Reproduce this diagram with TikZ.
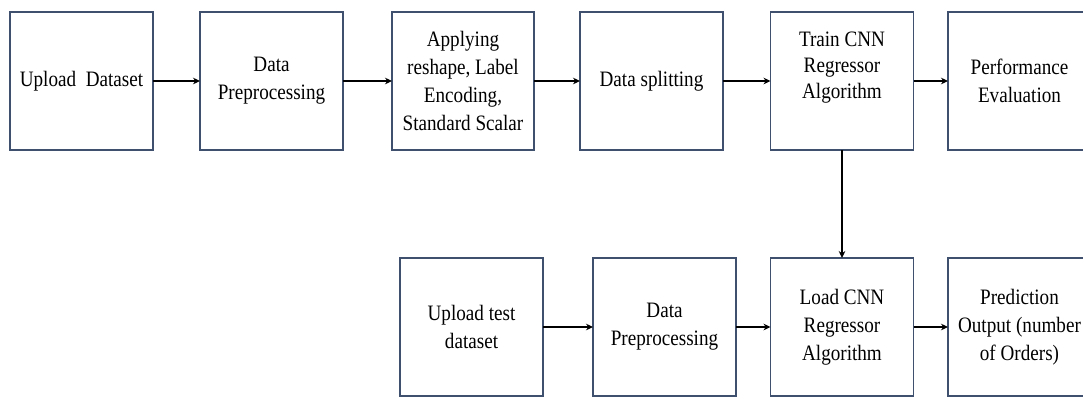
\documentclass[tikz,border=0pt]{standalone}
\usepackage{fontspec}
\setmainfont{Liberation Serif}[FakeStretch=0.87]
\usetikzlibrary{arrows.meta}
\definecolor{boxline}{RGB}{62,80,110}
\tikzset{
  stagebox/.style={draw=boxline, line width=0.65pt, rectangle, inner sep=0pt, outer sep=0pt,
    minimum width=71.5pt, minimum height=69pt, align=center,
    font=\fontsize{11pt}{14pt}\selectfont},
  boxtext/.style={align=center, inner sep=0pt, font=\fontsize{11pt}{13pt}\selectfont},
  flow/.style={draw=black, line width=0.75pt, -{Stealth[length=3.5pt,width=3.3pt]}}
}
\begin{document}
\begin{tikzpicture}[x=0.5pt,y=-0.5pt]
\useasboundingbox (0,0) rectangle (1083,397);
% top row
\node[stagebox] (upload) at (81.5,81) {Upload\ \ Dataset};
\node[stagebox] (prep) at (271.5,81) {Data\\Preprocessing};
\node[stagebox, minimum width=71pt] (apply) at (463,81) {Applying\\reshape, Label\\Encoding,\\Standard Scalar};
\node[stagebox] (split) at (651.5,81) {Data splitting};
\node[stagebox] (train) at (842,81) {};
\node[boxtext] (traintext) at (842,68) {Train CNN\\Regressor\\Algorithm};
\node[stagebox] (perf) at (1019.5,81) {Performance\\Evaluation};
% bottom row
\node[stagebox] (utest) at (471.5,327) {Upload test\\dataset};
\node[stagebox] (prep2) at (664.5,327) {Data\\Preprocessing};
\node[stagebox] (load) at (842,327) {Load CNN\\Regressor\\Algorithm};
\node[stagebox] (pred) at (1019.5,327) {Prediction\\Output (number\\of Orders)};
% connectors
\draw[flow] (upload) -- (prep);
\draw[flow] (prep) -- (apply);
\draw[flow] (apply) -- (split);
\draw[flow] (split) -- (train);
\draw[flow] (train) -- (perf);
\draw[flow] (train) -- (load);
\draw[flow] (utest) -- (prep2);
\draw[flow] (prep2) -- (load);
\draw[flow] (load) -- (pred);
\end{tikzpicture}
\end{document}
